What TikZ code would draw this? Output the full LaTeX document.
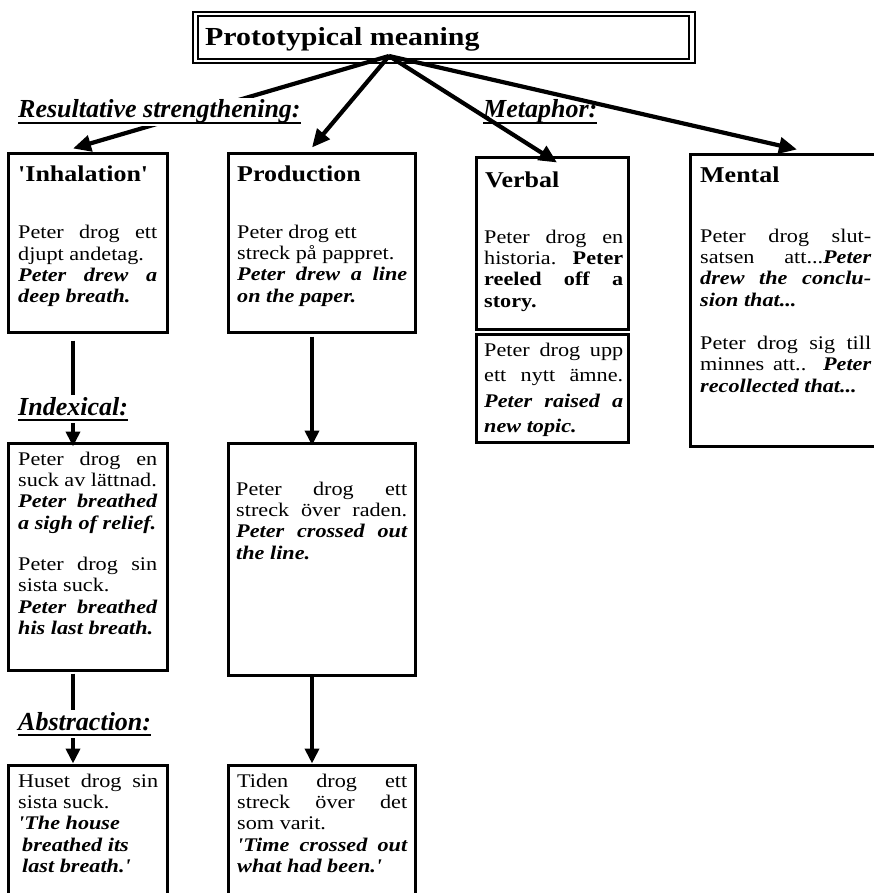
\documentclass[tikz,border=0pt]{standalone}
\usepackage{fontspec}
\setmainfont{Liberation Serif}[FakeStretch=1.15,Ligatures=TeXOff]
\newfontfamily\labfont{Liberation Serif}[Ligatures=TeXOff]
\usetikzlibrary{arrows.meta}
\newlength{\jw}
\newcommand{\bodyf}{\fontsize{19.3pt}{21.3pt}\selectfont}
\newcommand{\bodyw}{\fontsize{19.3pt}{25.5pt}\selectfont}
\newcommand{\headf}{\fontsize{22.6pt}{26pt}\selectfont\bfseries}
\newcommand{\titlef}{\fontsize{26pt}{30pt}\selectfont\bfseries}
\newcommand{\labf}{\labfont\fontsize{26pt}{30pt}\selectfont\bfseries\itshape}
\newcommand{\bi}[1]{{\bfseries\itshape #1}}
\newcommand{\jl}[1]{\makebox[\jw][s]{#1}}
\newcommand{\ulab}[1]{\setbox0=\hbox{#1}\rlap{\rule[-6pt]{\wd0}{1.8pt}}\box0}
\begin{document}
\begin{tikzpicture}[x=1pt,y=-1pt,
  box/.style={draw, line width=3pt, inner sep=0pt},
  txt/.style={anchor=north west, inner sep=0pt, align=left, font=\bodyf, yshift=14.91pt},
  txtw/.style={anchor=north west, inner sep=0pt, align=left, font=\bodyw, yshift=17.85pt},
  jw/.style={execute at begin node={\global\jw=#1\relax}},
  head/.style={anchor=base west, inner sep=0pt, font=\headf},
  lab/.style={anchor=base west, inner sep=0pt, font=\labf},
  labfill/.style={anchor=base west, inner sep=2pt, fill=white, font=\labf},
  toparr/.style={line width=4.2pt, -{Triangle[length=18pt,width=16pt]}},
  colarr/.style={line width=4pt, -{Triangle[length=15pt,width=14pt]}}]
\useasboundingbox (0,0) rectangle (874,893);

% title
\node[draw, line width=2.5pt, minimum width=502pt, minimum height=51pt, inner sep=0pt] (title) at (444,37.5) {};
\draw[line width=2pt] ([shift={(6pt,-5pt)}]title.north west) rectangle ([shift={(-7pt,5pt)}]title.south east);
\node[anchor=base west, inner sep=0pt, font=\titlef] (titletext) at (205,46) {Prototypical meaning};

% boxes
\node[box, minimum width=159pt, minimum height=178pt] (inh) at (87.5,243) {};
\node[box, minimum width=187pt, minimum height=178pt] (prod) at (321.5,243) {};
\node[box, minimum width=152pt, minimum height=171pt] (verb) at (552,243.5) {};
\node[box, minimum width=152pt, minimum height=108pt] (verb2) at (552,388) {};
\node[box, minimum width=195pt, minimum height=291pt] (ment) at (787.5,300.5) {};
\node[box, minimum width=159pt, minimum height=227pt] (idx) at (87.5,556.5) {};
\node[box, minimum width=187pt, minimum height=232pt] (prod2) at (321.5,559) {};
\node[box, minimum width=159pt, minimum height=130pt] (abs) at (87.5,830) {};
\node[box, minimum width=187pt, minimum height=130pt] (prod3) at (321.5,830) {};

% headings
\node[head] (inhhead) at (18,182) {'Inhalation'};
\node[head] (prodhead) at (237,182) {Production};
\node[head] (verbhead) at (485,188) {Verbal};
\node[head] (menthead) at (700,183) {Mental};

% texts
\node[txt, jw=139pt] (inhtext) at (18,238.5) {\strut\jl{Peter drog ett}\\
djupt andetag.\\
\jl{\bi{Peter drew a}}\\
\bi{deep breath.}};

\node[txt, jw=170pt] (prodtext) at (237,238) {\strut Peter drog ett\\
streck på pappret.\\
\jl{\bi{Peter drew a line}}\\
\bi{on the paper.}};

\node[txt, jw=139pt] (verbtext) at (484,243) {\strut\jl{Peter drog en}\\
\jl{historia. \textbf{Peter}}\\
\jl{\textbf{reeled off a}}\\
\textbf{story.}};

\node[txtw, jw=139pt] (verb2text) at (484,356) {\strut\jl{Peter drog upp}\\
\jl{ett nytt ämne.}\\
\jl{\bi{Peter raised a}}\\
\bi{new topic.}};

\node[txt, jw=171pt] (menttext) at (700,242) {\strut\jl{Peter drog slut-}\\
\jl{satsen att...\bi{Peter}}\\
\jl{\bi{drew the conclu-}}\\
\bi{sion that...}\\[22pt]
\jl{Peter drog sig till}\\
\jl{minnes att.. \bi{Peter}}\\
\bi{recollected that...}};

\node[txt, jw=139pt] (idxtext) at (18,465) {\strut\jl{Peter drog en}\\
suck av lättnad.\\
\jl{\bi{Peter breathed}}\\
\bi{a sigh of relief.}\\[20pt]
\jl{Peter drog sin}\\
sista suck.\\
\jl{\bi{Peter breathed}}\\
\bi{his last breath.}};

\node[txt, jw=171pt] (prod2text) at (236,495) {\strut\jl{Peter drog ett}\\
\jl{streck över raden.}\\
\jl{\bi{Peter crossed out}}\\
\bi{the line.}};

\node[txt, jw=140pt] (abstext) at (18,787) {\strut\jl{Huset drog sin}\\
sista suck.\\
\bi{'The house}\\
\hspace*{4pt}\bi{breathed its}\\
\hspace*{4pt}\bi{last breath.'}};

\node[txt, jw=170pt] (prod3text) at (237,787) {\strut\jl{Tiden drog ett}\\
\jl{streck över det}\\
som varit.\\
\jl{\bi{'Time crossed out}}\\
\bi{what had been.'}};

% metaphor label (under the line)
\node[lab] (metalab) at (483,118) {\ulab{Metaphor:}};

% arrows from the prototypical meaning
\coordinate (hub) at (389,56);
\draw[toparr] (hub) -- ([xshift=-14.5pt,yshift=4pt]inh.north);
\draw[toparr] (hub) -- ([xshift=-9.5pt,yshift=5pt]prod.north);
\draw[toparr] (hub) -- ([xshift=5pt,yshift=-6pt]verb.north);
\draw[toparr] (hub) -- ([xshift=9.5pt,yshift=4pt]ment.north);

% column arrows
\draw[colarr, shorten <=7pt] ([xshift=-14.5pt]inh.south) -- ([xshift=-14.5pt,yshift=-5pt]idx.north);
\draw[colarr, shorten <=2pt] ([xshift=-14.5pt]idx.south) -- ([xshift=-14.5pt]abs.north);
\draw[colarr, shorten <=3pt] ([xshift=-9.5pt]prod.south) -- ([xshift=-9.5pt,yshift=-4pt]prod2.north);
\draw[colarr] ([xshift=-9.5pt]prod2.south) -- ([xshift=-9.5pt]prod3.north);

% labels over lines
\node[labfill] (reslab) at (16,118) {\ulab{Resultative strengthening:}};
\node[labfill] (idxlab) at (16,415) {\ulab{Indexical:}};
\node[labfill] (abslab) at (16,730) {\ulab{Abstraction:}};
\end{tikzpicture}
\end{document}
